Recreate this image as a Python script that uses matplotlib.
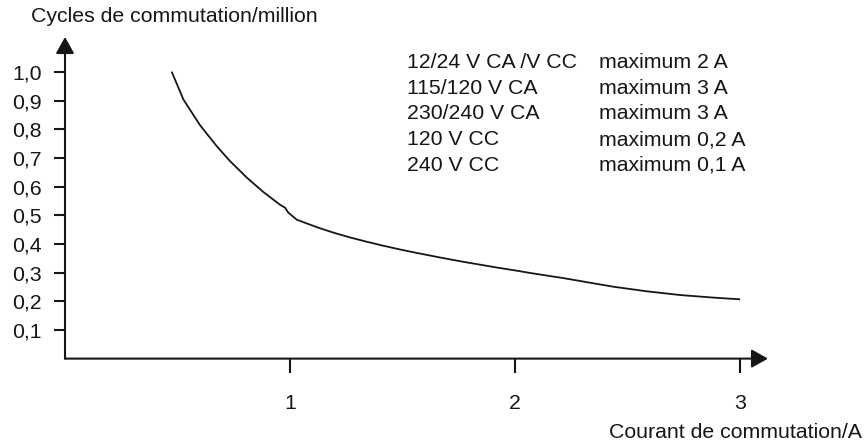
import matplotlib.pyplot as plt

plt.rcParams['font.family'] = ['Liberation Sans', 'DejaVu Sans']

# courbe : cycles de commutation en fonction du courant
courant = [0.474, 0.526, 0.600, 0.674, 0.733, 0.808, 0.881, 0.956, 0.978, 0.992,
           1.030, 1.119, 1.192, 1.267, 1.341, 1.415, 1.489, 1.563, 1.667, 1.770,
           1.919, 2.007, 2.067, 2.215, 2.333, 2.437, 2.585, 2.733, 2.881, 3.000]
cycles = [1.002, 0.905, 0.815, 0.742, 0.690, 0.632, 0.582, 0.537, 0.527, 0.510,
          0.485, 0.459, 0.440, 0.423, 0.408, 0.394, 0.381, 0.369, 0.353, 0.338,
          0.318, 0.307, 0.299, 0.281, 0.265, 0.251, 0.235, 0.222, 0.213, 0.207]

yticks = [0.1, 0.2, 0.3, 0.4, 0.5, 0.6, 0.7, 0.8, 0.9, 1.0]
ytick_labels = ['0,1', '0,2', '0,3', '0,4', '0,5', '0,6', '0,7', '0,8', '0,9', '1,0']
xticks = [1, 2, 3]
xtick_labels = ['1', '2', '3']

tensions = ['12/24 V CA /V CC', '115/120 V CA', '230/240 V CA', '120 V CC', '240 V CC']
maximums = ['maximum 2 A', 'maximum 3 A', 'maximum 3 A', 'maximum 0,2 A', 'maximum 0,1 A']

W, H = 864, 443
fig = plt.figure(figsize=(W / 100, H / 100), dpi=100)
ax = fig.add_axes([65 / W, (H - 358.6) / H, 703 / W, 321.6 / H])
ax.set_xlim(0, 3.124)
ax.set_ylim(0, 1.123)
for s in ax.spines.values():
    s.set_visible(False)

fs = 15.3
ink = '#161616'

# axes avec flèches
arrow = dict(arrowstyle='-|>,head_length=10,head_width=5.6', mutation_scale=1,
             lw=1.5, color=ink, shrinkA=0, shrinkB=0)
ax.annotate('', xy=(0, 1.123), xytext=(0, 0), arrowprops=arrow, annotation_clip=False)
ax.annotate('', xy=(3.124, 0), xytext=(0, 0), arrowprops=arrow, annotation_clip=False)

ax.set_yticks(yticks, ytick_labels)
ax.set_xticks(xticks, xtick_labels)
ax.tick_params(axis='y', direction='out', length=8, width=1.5, pad=9,
               labelsize=fs, colors=ink)
ax.tick_params(axis='x', direction='out', length=10, width=1.5, pad=15.5,
               labelsize=fs, colors=ink)

ax.plot(courant, cycles, color=ink, lw=1.3, solid_capstyle='butt',
        solid_joinstyle='round')

fig.text(31 / W, 1 - 17 / H, 'Cycles de commutation/million', fontsize=fs,
         color=ink, ha='left', va='center')
fig.text(862 / W, 1 - 432 / H, 'Courant de commutation/A', fontsize=fs,
         color=ink, ha='right', va='center')

for i, (t, m) in enumerate(zip(tensions, maximums)):
    y = 1 - (62.7 + 25.6 * i) / H
    fig.text(407 / W, y, t, fontsize=fs, color=ink, ha='left', va='center')
    fig.text(599 / W, y, m, fontsize=fs, color=ink, ha='left', va='center')

fig.savefig('out.png', dpi=100)
